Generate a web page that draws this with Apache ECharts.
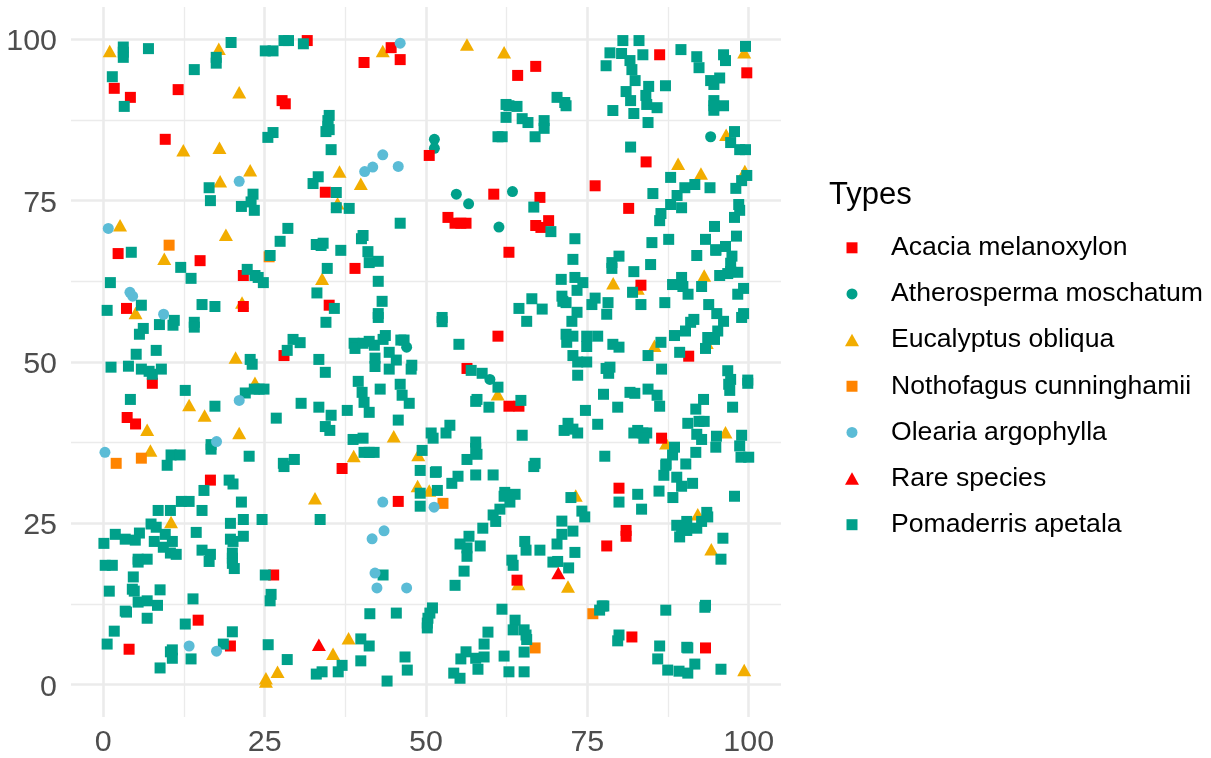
<!DOCTYPE html>
<html><head><meta charset="utf-8">
<style>html,body{margin:0;padding:0;background:#fff}#c{width:1211px;height:758px}</style>
<script src="https://cdn.jsdelivr.net/npm/echarts@6/dist/echarts.min.js"></script>
</head><body><div id="c"></div>
<script>
const speciesNames=["Acacia melanoxylon","Atherosperma moschatum","Eucalyptus obliqua","Nothofagus cunninghamii","Olearia argophylla","Rare species","Pomaderris apetala"];
const tickLabels=[0,25,50,75,100];
const minorBreaks=[12.5,37.5,62.5,87.5];
const acacia=[[1.7,92.4],[4.2,91],[11.6,92.2],[27.7,90.5],[28.2,90],[31.6,99.8],[44.6,98.7],[46,96.85],[40.4,96.4],[9.6,84.5],[50.5,82],[34.4,76.3],[67,95.8],[64.2,94.4],[86.2,97.6],[99.7,94.8],[76.2,77.3],[84.1,81],[81.4,73.8],[60.5,76],[67.65,75.5],[53.4,72.4],[54.5,71.5],[55.4,71.5],[56.2,71.5],[67,71.15],[67.8,70.85],[69,71.9],[2.3,66.8],[15,65.7],[21.7,63.4],[39,64.5],[3.6,58.3],[21.7,58.6],[35,58.8],[28,51],[7.6,46.7],[3.7,41.4],[5,40.4],[37,33.5],[62.85,67],[61.15,54],[83.3,61.9],[90.7,50.9],[56.35,49],[62.85,43.15],[64.4,43.15],[86.5,38.2],[16.6,31.7],[14.7,10],[4,5.5],[19.7,6],[45.7,28.4],[26.4,17],[79.9,30.45],[81,23.9],[81,23],[78,21.5],[64.1,16.2],[81.9,7.4],[93.3,5.7]];
const atherosperma=[[51.3,84.5],[51.3,83.1],[54.7,76],[56.6,74.5],[63.4,76.4],[61.3,70.9],[94.1,84.9],[47,52.3],[59.9,47.3]];
const eucalyptus=[[1,98.2],[17.9,98.55],[43.3,98.2],[21.06,91.8],[12.4,82.8],[18,83.2],[22.76,79.7],[18.1,78],[36.6,79.5],[39.9,77.6],[36.3,74.6],[2.6,71.2],[19,69.7],[56.35,99.2],[62.1,98],[99.3,98],[96.5,85.2],[89.06,80.7],[92.6,79.2],[99.4,79.6],[9.45,66],[33.9,62.9],[5,57.6],[21.5,59.2],[20.5,50.7],[23.5,46.8],[13.3,43.35],[15.7,41.7],[6.8,39.5],[21.06,39],[45,38.5],[7.3,36.3],[38.8,35.45],[48.8,35.6],[79,62.2],[93.1,63.4],[82.8,61.4],[85.4,52.5],[93.5,53],[61.1,45],[87.2,37.4],[96.4,39.1],[10.5,25.2],[32.8,28.9],[48.7,30.8],[50.5,30.1],[38,7.2],[35.6,4.8],[27,2],[25.2,1],[25.2,0.5],[73.2,29.3],[64.3,15.6],[72,15.2],[94.2,21],[92.1,26.4],[99.3,2.27]];
const nothofagus=[[10.2,68.1],[2,34.3],[5.9,35.1],[25.7,66.3],[52.63,28.1],[66.9,5.7],[75.85,11]];
const olearia=[[46,99.4],[43.3,82.1],[41.75,80.2],[40.5,79.5],[45.7,80.3],[21.06,78],[0.78,70.7],[4.13,60.8],[4.55,60.2],[9.35,57.4],[21.06,44.05],[17.55,37.67],[0.26,36],[43.3,28.3],[51.25,27.5],[43.5,23.85],[41.65,22.6],[42.1,17.3],[42.4,15],[47,15],[13.3,6],[17.55,5.2]];
const rare=[[33.4,6.2],[70.5,17.3]];
const pomaderris=[[3.1,98.8],[3.1,98],[3.1,97.2],[7,98.55],[19.8,99.5],[17.5,97.2],[17.5,96.3],[14.1,95.3],[1.4,94.2],[3.25,89.6],[25.1,98.2],[26.3,98.2],[28,99.8],[28.7,99.8],[31,99.3],[35,88.2],[34.8,87.4],[34.8,86.5],[35,86],[34.5,85.7],[26.3,85.55],[25.5,84.8],[35.3,82.9],[33.3,78.7],[32.5,77.65],[36.1,76.26],[16.4,77],[16.6,75],[23.2,76],[22.9,74.8],[21.4,74.1],[23.4,73.5],[36.1,73.9],[38.1,73.8],[46,71.5],[28.6,70.7],[27.4,68.7],[40.25,69.6],[40,69.1],[33,68.2],[34.06,68.4],[33.75,68.05],[36.8,67.3],[41,67.1],
[4.34,67],[12,64.66],[13.6,62.96],[1.1,62.3],[22.3,64.35],[23.5,63.4],[24,63.1],[24.8,62.3],[25.85,66.5],[34.7,64.5],[41.2,65.4],[42.6,65.6],[42.6,62.5],[33.1,60.7],[43.2,59.4],[42.6,57.5],[42.6,56.9],[35.8,58.3],[34.5,56.15],[15.3,58.9],[17.3,58.6],[5.9,58.8],[0.6,58],[11,56.45],[10.8,55.7],[8.7,55.8],[14.1,56.15],[14.1,55.4],[6.2,55.2],[5.6,54.3],[8.2,51.8],[5.1,51.2],[1.2,49.2],[3.9,49.35],[5.9,48.9],[7.1,48.56],[7.6,48.1],[9,48.9],[12.7,45.6],[4.2,44.2],[17.3,43.15],[22.76,50.4],[23.07,49.65],[29.4,53.5],[30.5,53],[28.5,51.8],[33.4,50.4],[34.4,48.4],[22,45.2],[23.4,45.8],[24.15,45.8],[24.9,45.8],[30.65,43.6],[33.4,43],[35.3,41.75],[37.8,42.5],[26.8,41.3],[34.4,40],[35.1,39.4],[38.86,52.9],[39,52.1],[40.25,52.9],[41.2,53.2],[42,52.6],[43.7,54.1],[43.35,53.5],[44.3,51.5],[45.4,50.3],[44.3,48.9],[42.1,50.6],[42.1,49.3],[46.1,53.4],[46.6,53.4],[47.8,49.5],[47.7,48.9],[39.5,47],[40.1,45.3],[40.4,43.75],[41.2,42.2],[42.9,45.8],[46,46.55],[46.3,44.85],[47.4,43.6],[45.7,41],[50.8,39],[51.1,38.2],[49.4,36.3],[38.7,38],[40.25,38.2],[40.4,36],[41.2,36],[41.96,36],[16.7,36.5],[16.7,37.2],[10.5,35.6],[11.9,35.6],[9.9,34],[22.6,35.4],[27.9,34.3],[29.6,34.9],[28,33.8],
[52.5,56.9],[52.5,56.25],[55.1,52.74],[72.76,65.9],[70.95,62.8],[73.07,63.1],[74.3,62.3],[73.4,61.1],[71.06,60.2],[71.2,59.4],[71.7,59.2],[73.4,57.7],[72.6,56.3],[71.7,54.3],[72.76,54],[71.8,53.05],[72.76,51],[73.5,50],[74.9,50],[73.5,47.95],[66.4,59.8],[64.4,58.3],[68,58.2],[65.6,56.3],[74.9,54],[76.6,54],[74.9,52.4],[76.2,59.9],[75.7,58.9],[78.2,59.2],[78,57.4],[79.9,66.4],[78.8,65.4],[78.8,64.5],[82.2,64],[84.8,65.1],[82,60.8],[83.3,58.9],[87,59.2],[88.2,62],[89.6,63.1],[89.8,61.7],[90.6,60.5],[92.7,61.7],[91.95,66.5],[94.9,67.3],[96.4,67.9],[97.4,66.4],[97.2,65.3],[97.2,64],[98.3,63.9],[96.75,63.7],[95.5,63.4],[99.2,61.4],[98.3,60.5],[93.8,58.9],[95.05,57.5],[96.1,56.3],[95.2,54.8],[99.2,57.5],[98.9,56.9],[91.5,56.6],[91,56.15],[90.2,54.8],[88.5,54.1],[93.65,53.8],[94.7,53.5],[93.3,52.1],[86.4,53.05],[84.4,51],[89.3,51.5],[78.95,52.74],[79.9,52.3],[86.5,48.9],[78.5,49.2],[78.3,48.25],[77.9,49],[96.75,48.65],[97.2,47.3],[96.9,46.55],[97.06,45.6],[99.85,46.7],[99.85,47.2],[97.5,43],[93,44.2],[91.8,42.7],[90.56,40.5],[92.3,40.8],[93.1,40.8],[91.95,38.8],[92.7,38],[95,38.5],[94.9,36.8],[98.9,38.65],[98.6,37],[98.8,35.25],[100,35.25],[91.8,36],[88.2,35.6],[88.5,36.8],[87.2,34.2],[90.25,34.2],[84.4,45.8],[85.8,44.85],[86.2,43.15],[81.6,45.3],[82.35,45.15],[79.7,43],[77.5,45],[82.8,39.4],[82.2,39],[83.6,39],[84.2,39],[83.75,38.2],[77.7,35.4],[76.6,40.35],[72,40.5],[71.4,39.4],[72.76,39.6],[73.5,39],[74.7,42.5],[64.9,38.65],[64.7,44.05],[61.15,46.1],[59.75,43],[57.9,44.2],[57.7,43.9],[57,48.7],[58.7,48.25],[53.7,40.2],[53.1,39],[57.7,37.6],[57.7,36.6],[57.9,35.7],[56.35,34.9],[66.9,34.3],[66.7,33.8],[51.6,33],
[80.5,99.8],[83,99.8],[78.5,97.9],[80.3,97.8],[83.6,97.6],[81.6,96.7],[77.9,95.9],[81.9,95.3],[82.4,93.6],[89.5,98.4],[91.95,97.3],[92.3,95.6],[96.1,97.6],[96.4,96.7],[99.5,98.9],[95.5,94],[94.1,93.6],[94.6,93],[84.5,92.7],[87.1,92.8],[81,91.9],[81.7,90.5],[84.06,91.3],[84.2,89.9],[85.8,89.4],[82.2,88.5],[78.95,88.96],[84.4,87.1],[94.6,90.5],[94.6,89.7],[96.1,89.7],[94.6,89],[97.8,85.7],[97.2,84],[98.6,82.9],[99.5,82.9],[81.7,83.3],[87.9,78.6],[91.65,77.5],[90.1,77],[94,77],[98,76.9],[98.9,78.1],[99.7,78.9],[85.15,76.1],[88.9,75.8],[87.9,74.4],[89.6,73.9],[86.4,73],[86.2,71.9],[98.45,74.4],[98.6,73.5],[97.8,72.4],[94.7,71],[98.1,69.5],[93.3,69],[94.9,67.4],[87.6,69],[85,68.5],[62.4,89.9],[62.85,89.7],[64.1,89.6],[62.4,87.9],[64.9,87.7],[65.8,87.1],[68.3,87.4],[68.3,86.2],[66.9,84.9],[61.15,84.9],[61.8,84.9],[70.3,91],[71.5,90.2],[71.7,89.7],[66.7,74],[69.35,70.2],[73.07,69.1],
[19.5,31.7],[20.1,31.1],[15.6,30.1],[21.4,28.3],[12.1,28.4],[13.3,28.4],[8.5,27],[10.4,27],[15.3,27],[21.7,25.6],[24.6,25.6],[33.6,25.6],[19.7,25],[7.4,24.9],[8.2,24.4],[14.4,23.6],[9.6,23.3],[1.86,23.3],[5.6,23.5],[3.4,22.55],[4.96,22.4],[0.1,21.9],[7.9,22.2],[10.7,22.2],[9.3,21.3],[10.4,20.4],[11.3,20.2],[19.7,22.55],[20.1,22.2],[21.7,23],[20,20.4],[20,19.6],[20,18.8],[20.3,18],[15.3,20.85],[16.6,20.2],[16.4,19.1],[6.8,19.45],[5.4,19.45],[5.4,19],[0.3,18.5],[1.4,18.5],[4.65,16.7],[25.1,17],[43.35,17],[4.5,14.8],[4.8,14.5],[0.93,14.5],[8.8,14.7],[5.4,12.8],[6.8,13],[8.4,12.3],[13.9,13.3],[26,14],[25.85,13],[3.4,11.4],[3.6,11.25],[6.8,10.3],[12.7,9.4],[1.7,8.3],[0.6,6.3],[20,8.2],[18.6,6.3],[25.55,6.2],[10.7,5.4],[10.4,5.1],[10.7,4.1],[13.6,4],[8.8,2.6],[28.5,3.9],[41.3,11],[45.4,11.1],[51,11.9],[50.6,11.1],[50.3,10.3],[50.2,9.55],[50.2,8.8],[39.9,7.1],[41.2,6],[39.9,3.7],[46.75,4.3],[47.1,2.27],[43.97,0.57],[37,3],[36.4,2],[33.9,2],[33,1.65],[49.1,33.2],[51.45,32.9],[49.1,29.67],[51.76,30.1],[49.1,27.66],
[54.96,32.3],[54,31.2],[57.7,32.5],[60.4,32.5],[62.2,29.8],[63.8,29.5],[62.1,29.2],[63,28.3],[61.45,27.2],[60.4,26.3],[60.8,25.3],[58.8,24.25],[56.66,23],[55.27,21.8],[56.35,21.2],[58.4,21.5],[56.35,19.9],[55.9,17.6],[54.5,15.4],[65.3,22.2],[65.5,20.85],[67.65,20.85],[70.3,21.8],[71.05,23.3],[72.76,23.8],[71.05,25.35],[73.07,20.5],[63.3,19.3],[63.5,18.5],[69.66,19],[70.4,19.1],[72.1,18.1],[72.45,29],[74.15,26.9],[74.6,26],[79.9,28.3],[82.8,29.5],[83.4,27.2],[86.1,30],[88.25,29],[88.85,32.15],[86.85,32.45],[87.15,34],[89.6,30.75],[91.3,31.2],[97.8,29.2],[93.5,26.7],[93.65,26],[92.7,25.3],[88.85,24.7],[90.4,25.3],[90.4,23.9],[91.95,24.25],[89.3,22.9],[89.6,24.25],[96,22.7],[95.7,19.45],[77.3,12.2],[77.55,12.2],[76.9,11.56],[87.15,11.55],[93.3,12.3],[93.2,12],[79.9,7.7],[79.7,6.8],[86.2,6],[90.4,5.8],[90.56,5.7],[85.9,4],[91.65,3.2],[87.45,2.27],[89.2,2.1],[90.56,1.8],[95.7,2.4],[61.77,11.7],[63.8,10],[63.5,8.5],[65.2,8.5],[65.5,7.7],[65.6,7],[59.6,8.15],[59,6.3],[56.2,5.1],[55.4,4],[57.7,4.1],[59,4.3],[58.05,2.4],[54.3,1.8],[55.27,1],[62.1,4.44],[65.2,5.06],[62.85,2],[65.2,2]];

const seriesData=[acacia,atherosperma,eucalyptus,nothofagus,olearia,rare,pomaderris];
const colors=["#FF0000","#00A08A","#F2AD00","#FF8400","#5BBCD6","#FF0000","#00A08A"];
const symbols=["rect","circle","triangle","rect","circle","triangle","rect"];
const sizes=[[11,11],[11,11],[14,12.5],[11,11],[11,11],[14,12.5],[11,11]];
const zOrder=[5,3,2,2,7,8,6];
const FONT='"Liberation Sans",Arial,sans-serif';
const chart=echarts.init(document.getElementById('c'),null,{renderer:'canvas'});
const grid={left:71,top:7,width:710,height:710,outerBoundsMode:'none'};
const labelBase={color:'#4D4D4D',fontSize:30.4,fontFamily:FONT};
const axisOf=(label)=>({type:'value',min:-5,max:105,
  axisLine:{show:false},axisTick:{show:false},splitLine:{show:false},
  axisLabel:Object.assign({},labelBase,{customValues:tickLabels},label)});
const gridLine=(vals,w)=>({type:'scatter',data:[],z:1,silent:true,animation:false,
  markLine:{silent:true,symbol:'none',animation:false,z:1,label:{show:false},
    lineStyle:{color:'#EBEBEB',width:w,type:'solid'},
    data:vals.flatMap(v=>[{xAxis:v},{yAxis:v}])}});
const series=speciesNames.map((n,i)=>({name:n,type:'scatter',data:seriesData[i],symbol:symbols[i],symbolSize:sizes[i],
  itemStyle:{color:colors[i],opacity:1},z:zOrder[i],clip:false,silent:true,animation:false}));
series.push(gridLine(minorBreaks,1.3),gridLine(tickLabels,2.6));
const legends=speciesNames.map((n,i)=>({show:true,data:[n],orient:'vertical',left:852-sizes[i][0]/2,top:250.3+i*46.15-16,
  itemWidth:sizes[i][0],itemHeight:sizes[i][1],itemGap:0,padding:0,selectedMode:false,
  textStyle:{color:'#000',fontSize:26.6,fontFamily:FONT,padding:[0,0,0,39-sizes[i][0]/2-5]},
  height:32}));
chart.setOption({backgroundColor:'#fff',animation:false,
  title:{text:'Types',left:829,top:180,padding:0,textStyle:{color:'#000',fontSize:31,fontWeight:'normal',fontFamily:FONT}},
  grid:Object.assign({},grid),
  xAxis:axisOf({margin:11}),
  yAxis:axisOf({margin:14,formatter:v=>'{a|'+v+'}',rich:{a:Object.assign({},labelBase,{padding:[5,0,0,0]})}}),
  legend:legends,series});
</script></body></html>
